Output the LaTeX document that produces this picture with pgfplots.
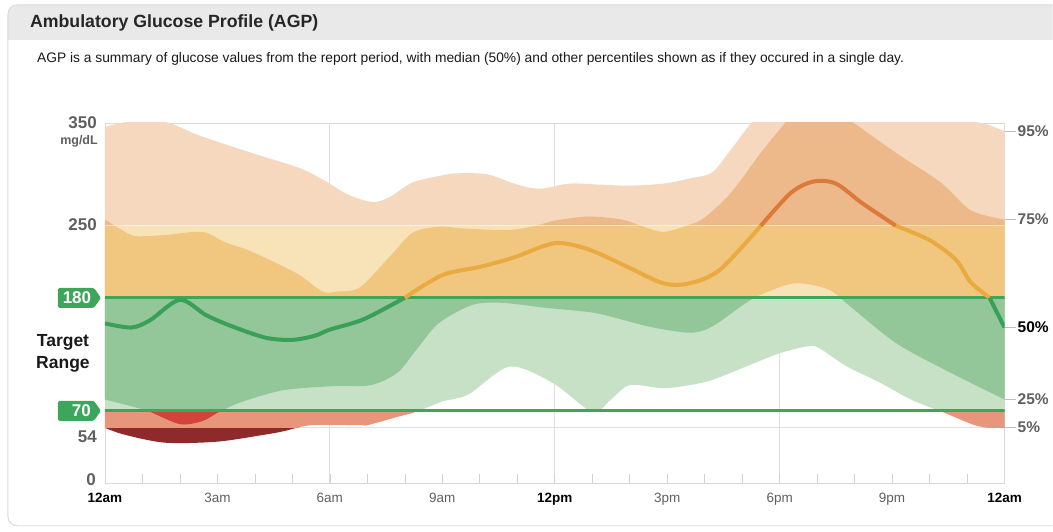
\documentclass[border=0pt]{standalone}
\usepackage{fontspec}
\setmainfont{Liberation Sans}
\usepackage{pgfplots}
\usepackage{pgfplotstable}
\pgfplotsset{compat=1.18}
\usepgfplotslibrary{fillbetween}
\definecolor{peach}{HTML}{F5D8BE}
\definecolor{dkorange}{HTML}{EDB88A}
\definecolor{ltyellow}{HTML}{F8E3B9}
\definecolor{dkyellow}{HTML}{F1C67E}
\definecolor{ltgreen}{HTML}{C6E1C6}
\definecolor{mdgreen}{HTML}{93C698}
\definecolor{salmon}{HTML}{E8967B}
\definecolor{brred}{HTML}{D2443A}
\definecolor{dkred}{HTML}{8E2A2B}
\definecolor{tgtgreen}{HTML}{3CA65B}
\definecolor{medgreen}{HTML}{3A9F57}
\definecolor{medyellow}{HTML}{E9AA42}
\definecolor{medorange}{HTML}{DD7A3B}
\definecolor{lblgrey}{HTML}{5F5F5F}
\definecolor{titlebar}{HTML}{E9E9E9}
\definecolor{cardborder}{HTML}{DADADA}

% 95th percentile
\pgfplotstableread{
x y
0 346
0.6 351
1.6 351
2.5 338
3.9 321
5.2 306
5.9 293
6.5 280
7.15 273
7.6 278
8.2 292
9.0 299
9.4 301
10.2 300
11.0 290
11.6 286
12.4 291
13.2 290
14.0 289
14.9 291
15.6 296
16.2 302
16.7 324
17.3 352
17.8 362
20 365
22.5 362
23.1 352
23.5 349
24 342
}\ptnf
% 75th percentile
\pgfplotstableread{
x y
0 256
0.4 247
0.8 240
1.6 241
2.6 244
3.2 234
3.9 225
5.1 204
5.8 186
6.2 186
6.8 190
7.6 220
8.2 243
8.9 249
9.7 247
10.8 246
11.5 250
12.0 255
12.9 259
13.8 256
14.3 250
14.9 244
15.6 251
16.0 258
16.7 282
17.5 321
18.2 352
18.6 362
19.5 362
19.9 352
21.1 321
22.3 292
23.1 265
24 256
}\ptsf
% 25th percentile
\pgfplotstableread{
x y
0 81
0.75 74
1.2 69
2.0 57
2.6 60
3.0 68
3.6 78
4.75 90
6.1 94
7.1 95
7.8 107
8.3 129
8.9 155
9.8 173
10.6 175
11.8 170
13.1 165
14.5 152
15.6 146
16.2 152
17.1 175
17.5 183
18.4 194
19.3 188
19.9 171
21.1 136
22.4 110
24 81
}\pttf
% 5th percentile
\pgfplotstableread{
x y
0 53.5
0.5 47
1.6 39
3.0 40
4.3 47
4.75 50
5.5 56
6.8 56
7.0 56
7.8 64
8.3 69
9.0 79
9.7 86
10.8 113
11.95 97
13.0 69
13.5 81
14.0 95
14.9 92
15.6 95
16.2 100
17.1 113
18.0 126
18.8 133
19.1 130
19.8 113
20.7 97
21.5 81
22.4 68
23.3 55
24 54
}\ptfv

% one hidden axis per glucose zone, clipped to that zone
\newcommand{\zone}[6]{%
\begin{axis}[at={(105pt,#4pt)}, anchor=south west, scale only axis,
  width=900pt, height=#3pt, xmin=0, xmax=24, ymin=#1, ymax=#2, hide axis]
\addplot[draw=none, name path=a, smooth] table {\ptnf};
\addplot[draw=none, name path=b, smooth] table {\ptfv};
\addplot[draw=none, name path=c, smooth] table {\ptsf};
\addplot[draw=none, name path=d, smooth] table {\pttf};
\addplot[fill=#5, draw=none] fill between[of=b and a];
\addplot[fill=#6, draw=none] fill between[of=d and c];
\end{axis}}

\begin{document}
\begin{tikzpicture}
\path (0pt,0pt) rectangle (1053pt,532pt);
\fill[titlebar] (1053pt,492pt) -- (1053pt,527pt) [rounded corners=9pt] -- (8pt,527pt) [sharp corners] -- (8pt,492pt) -- cycle;
\draw[cardborder, line width=1pt, rounded corners=9pt] (1053pt,527pt) -- (8pt,527pt) -- (8pt,6pt) -- (1053pt,6pt);
\node[anchor=west, font=\fontsize{17.7}{20}\selectfont\bfseries, text=black!85, inner sep=0pt] at (30pt,509pt) {Ambulatory Glucose Profile (AGP)};
\node[anchor=west, font=\fontsize{13.8}{16}\selectfont, text=black!90, inner sep=0pt] at (37pt,473pt) {AGP is a summary of glucose values from the report period, with median (50\%) and other percentiles shown as if they occured in a single day.};

\zone{0}{54}{55.543}{49}{dkred}{dkred}
\zone{54}{70}{16.457}{104.543}{salmon}{brred}
\zone{70}{180}{113.143}{121}{ltgreen}{mdgreen}
\zone{180}{250}{72}{234.143}{ltyellow}{dkyellow}
\zone{250}{350}{102.857}{306.143}{peach}{dkorange}

\begin{axis}[at={(105pt,49pt)}, anchor=south west, scale only axis, set layers,
  width=900pt, height=360pt, xmin=0, xmax=24, ymin=0, ymax=350,
  axis line style={draw=black!15},
  ytick=\empty,
  xtick={0,3,...,24},
  xticklabels={\textbf{12am},\textcolor{lblgrey}{3am},\textcolor{lblgrey}{6am},\textcolor{lblgrey}{9am},\textbf{12pm},\textcolor{lblgrey}{3pm},\textcolor{lblgrey}{6pm},\textcolor{lblgrey}{9pm},\textbf{12am}},
  minor x tick num=2,
  tick align=inside, xtick pos=left,
  major tick length=9pt, minor tick length=9pt,
  tick style={black!18, line width=0.6pt},
  extra x ticks={6,12,18}, extra x tick labels={},
  extra x tick style={grid=major, major tick length=0pt},
  extra y ticks={54}, extra y tick labels={},
  extra y tick style={grid=major, major tick length=0pt},
  major grid style={black!12, line width=0.8pt},
  xticklabel style={font=\fontsize{13.5}{15}\selectfont, yshift=-7pt},
]
\draw[white, opacity=0.55, line width=1.2pt] (axis cs:0,250) -- (axis cs:24,250);
\draw[tgtgreen, line width=3pt] (axis cs:0,180) -- (axis cs:24,180);
\draw[tgtgreen, line width=3pt] (axis cs:0,70) -- (axis cs:24,70);

\addplot[medgreen, line width=4pt, smooth] coordinates {
(0,155) (0.7,151) (1.2,158) (2.0,178) (2.7,163) (3.4,152) (4.3,141) (5.0,139) (5.6,143) (6.0,149) (6.9,159) (8.0,180)};
\addplot[medyellow, line width=4pt, smooth] coordinates {
(8.0,180) (9.0,202) (10.0,210) (10.9,219) (12.0,233) (12.9,227) (14.0,209) (14.9,194) (15.6,194) (16.4,207) (17.5,250)};
\addplot[medorange, line width=4pt, smooth] coordinates {
(17.5,250) (18.3,282) (18.9,293) (19.5,291) (20.2,272) (21.1,250)};
\addplot[medyellow, line width=4pt, smooth] coordinates {
(21.1,250) (22.0,236) (22.7,217) (23.1,195) (23.6,180)};
\addplot[medgreen, line width=4pt] coordinates {
(23.6,180) (24,151)};
\end{axis}

% left labels
\begin{scope}[every node/.style={inner sep=0pt}]
\node[anchor=east, font=\fontsize{17}{19}\selectfont\bfseries, text=lblgrey] at (97pt,409pt) {350};
\node[anchor=east, font=\fontsize{12.5}{14}\selectfont\bfseries, text=lblgrey] at (98pt,391pt) {mg/dL};
\node[anchor=east, font=\fontsize{17}{19}\selectfont\bfseries, text=lblgrey] at (97pt,307pt) {250};
\node[anchor=east, font=\fontsize{17}{19}\selectfont\bfseries, text=lblgrey] at (97pt,95pt) {54};
\node[anchor=east, font=\fontsize{17}{19}\selectfont\bfseries, text=lblgrey] at (96pt,52pt) {0};
\fill[tgtgreen, rounded corners=1.5pt] (58pt,224pt) -- (94pt,224pt) -- (101pt,234pt) -- (94pt,244pt) -- (58pt,244pt) -- cycle;
\node[font=\fontsize{17}{19}\selectfont\bfseries, text=white] at (77pt,234pt) {180};
\fill[tgtgreen, rounded corners=1.5pt] (58pt,111pt) -- (94pt,111pt) -- (101pt,121pt) -- (94pt,131pt) -- (58pt,131pt) -- cycle;
\node[anchor=east, font=\fontsize{17}{19}\selectfont\bfseries, text=white] at (91pt,121pt) {70};
\node[align=center, font=\fontsize{17.5}{22}\selectfont\bfseries, text=black!90] at (63pt,178pt) {Target\\Range};
% right labels
\foreach \v/\t/\c in {342/95\%/lblgrey, 256/75\%/lblgrey, 151/50\%/black, 81/25\%/lblgrey, 54/5\%/lblgrey} {
  \pgfmathsetmacro{\yy}{49+\v*1.028571}
  \draw[black!25, line width=0.8pt] (1005pt,\yy pt) -- (1016pt,\yy pt);
  \node[anchor=west, font=\fontsize{15.5}{17}\selectfont\bfseries, text=\c] at (1018pt,\yy pt) {\t};
}
\end{scope}
\end{tikzpicture}
\end{document}
